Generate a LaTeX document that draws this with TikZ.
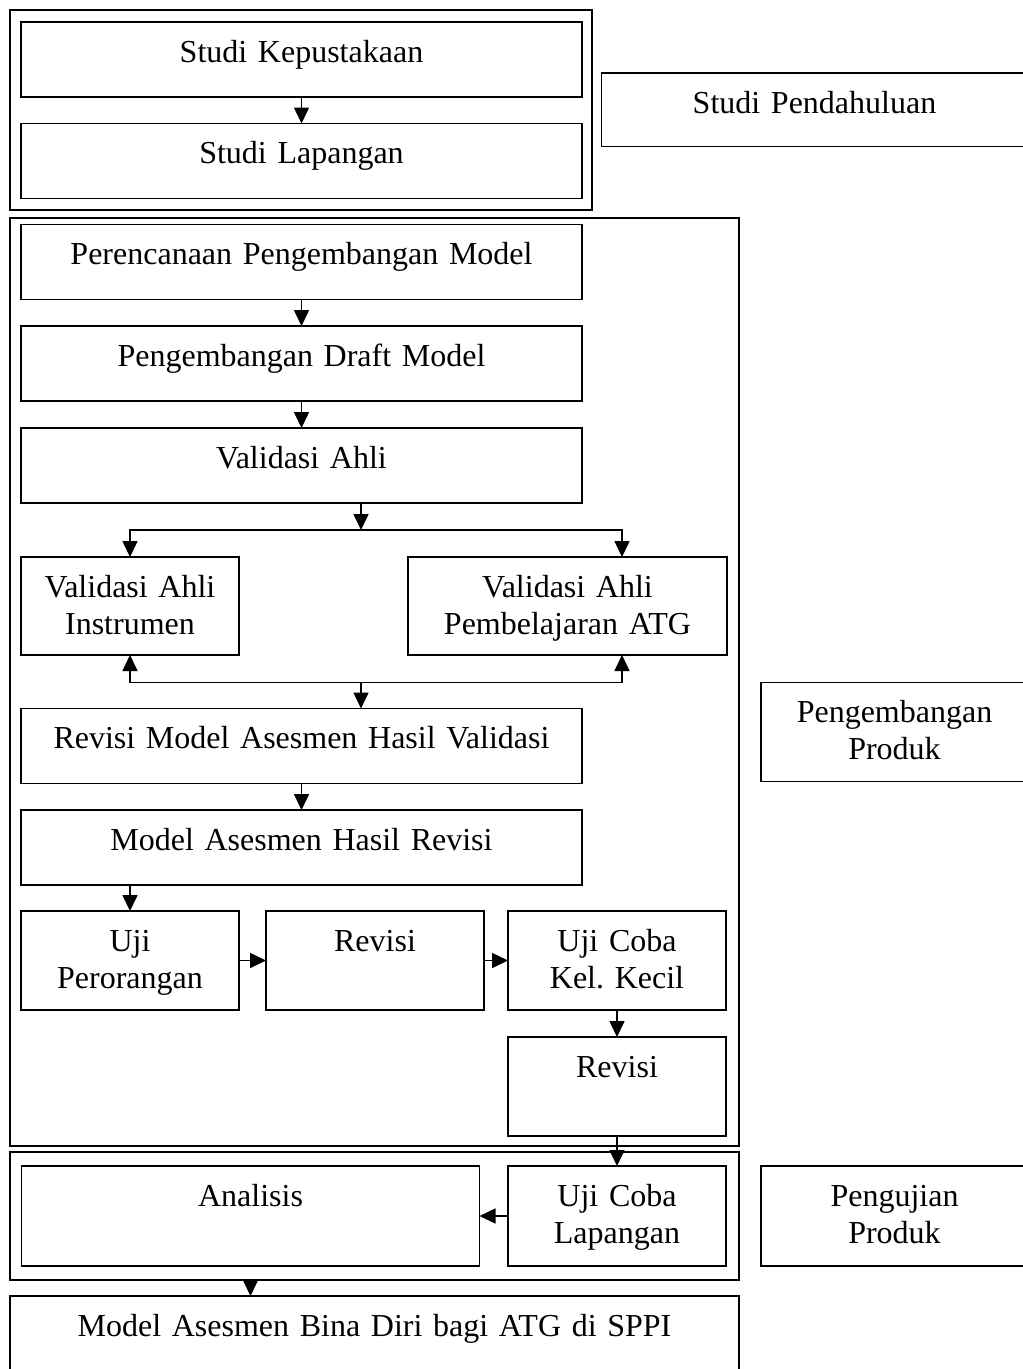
\documentclass[tikz,border=0pt]{standalone}
\usepackage{fontspec}
\setmainfont{Liberation Serif}
\frenchspacing
\usetikzlibrary{positioning, arrows.meta}

\begin{document}
\begin{tikzpicture}[
    x=1pt, y=-1pt,
    box/.style={draw, line width=1.7pt, anchor=north west, inner sep=0pt, outer sep=0pt, align=center, text height=40pt, font=\fontsize{32}{37.3}\selectfont},
    stage/.style={draw, line width=1.7pt, anchor=north west, inner sep=0pt, outer sep=0pt},
    arrow/.style={-{Triangle[width=15pt, length=16pt]}, line width=1.6pt}
]
\useasboundingbox (0,0) rectangle (1023,1369);

% Frames of the three stages
\node[stage, minimum width=582pt, minimum height=200pt] (pendahuluan) at (10,10) {};
\node[stage, minimum width=729pt, minimum height=928pt] (pengembangan) at (10,218) {};
\node[stage, minimum width=729pt, minimum height=128pt] (pengujian) at (10,1152) {};

% Studi pendahuluan
\node[box, text width=561pt, text depth=35pt] (kepustakaan) at (21,22) {Studi Kepustakaan};
\node[box, text width=561pt, text depth=35pt, below=26.5pt of kepustakaan] (lapangan) {Studi Lapangan};
\node[box, text width=426pt, text depth=33.5pt] (studipendahuluan) at (601.5,73) {Studi Pendahuluan};

% Pengembangan produk
\node[box, text width=561pt, text depth=35pt] (perencanaan) at (21,224.5) {Perencanaan Pengembangan Model};
\node[box, text width=561pt, text depth=35pt, below=26.5pt of perencanaan] (draft) {Pengembangan Draft Model};
\node[box, text width=561pt, text depth=35pt, below=27pt of draft] (validasi) {Validasi Ahli};
\node[box, text width=218pt, text depth=58pt] (instrumen) at (21,557) {Validasi Ahli\\Instrumen};
\node[box, text width=319pt, text depth=58pt] (pembelajaran) at (408,557) {Validasi Ahli\\Pembelajaran ATG};
\node[box, text width=561pt, text depth=35pt] (revisimodel) at (21,708.5) {Revisi Model Asesmen Hasil Validasi};
\node[box, text width=561pt, text depth=35pt, below=26.5pt of revisimodel] (hasilrevisi) {Model Asesmen Hasil Revisi};
\node[box, text width=218pt, text depth=59pt] (perorangan) at (21,911) {Uji\\Perorangan};
\node[box, text width=218pt, text depth=59pt, right=27pt of perorangan] (revisi) {Revisi};
\node[box, text width=218pt, text depth=59pt, right=24pt of revisi] (kelkecil) {Uji Coba\\Kel. Kecil};
\node[box, text width=218pt, text depth=59pt, below=27pt of kelkecil] (revisiakhir) {Revisi};
\node[box, text width=267pt, text depth=59pt] (produk) at (761,682.5) {Pengembangan\\Produk};

% Pengujian produk
\node[box, text width=458pt, text depth=60pt] (analisis) at (21.5,1166) {Analisis};
\node[box, text width=218pt, text depth=60pt] (ujilapangan) at (508,1166) {Uji Coba\\Lapangan};
\node[box, text width=267pt, text depth=60pt] (pengujianproduk) at (761,1166) {Pengujian\\Produk};
\node[box, text width=729pt, text depth=60pt] (modelakhir) at (10,1296) {Model Asesmen Bina Diri bagi ATG di SPPI};

% Branch points of the expert validation
\coordinate (cabang) at (361,530);
\coordinate (gabung) at (361,682.5);

% Flow
\draw[arrow] (kepustakaan) -- (lapangan);
\draw[arrow] (perencanaan) -- (draft);
\draw[arrow] (draft) -- (validasi);
\draw[arrow] (validasi.south -| cabang) -- (cabang);
\draw[arrow] (cabang) -| (instrumen.north);
\draw[arrow] (cabang) -| ([xshift=54.5pt]pembelajaran.north);
\draw[arrow] (gabung) -| (instrumen.south);
\draw[arrow] (gabung) -| ([xshift=54.5pt]pembelajaran.south);
\draw[arrow] (gabung) -- (gabung |- revisimodel.north);
\draw[arrow] (revisimodel) -- (hasilrevisi);
\draw[arrow] (hasilrevisi.south -| perorangan.north) -- (perorangan.north);
\draw[arrow] (perorangan) -- (revisi);
\draw[arrow] (revisi) -- (kelkecil);
\draw[arrow] (kelkecil) -- (revisiakhir);
\draw[arrow] (revisiakhir.south) -- (revisiakhir.south |- ujilapangan.north);
\draw[arrow] (ujilapangan) -- (analisis);
\draw[arrow] (pengujian.south -| analisis.south) -- (analisis.south |- modelakhir.north);

\end{tikzpicture}
\end{document}
